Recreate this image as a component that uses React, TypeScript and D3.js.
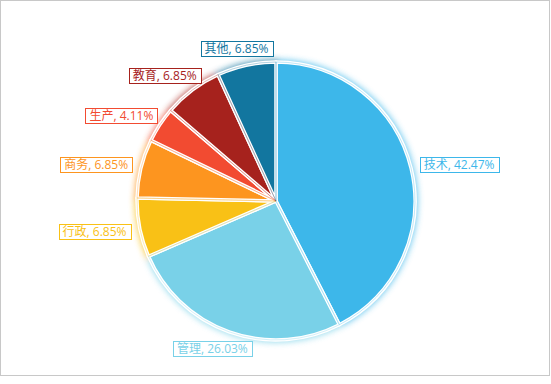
import React, { useEffect, useRef } from "react";
import * as d3 from "d3";

const categories = ["技术", "管理", "行政", "商务", "生产", "教育", "其他"];
const values = [31, 19, 5, 5, 3, 5, 5];
const colors = ["#3db7ea", "#79d1e8", "#f9c116", "#fd951f", "#f24b31", "#a6221d", "#12769f"];

const W = 551;
const H = 384;

export default function App() {
  const ref = useRef<SVGSVGElement | null>(null);

  useEffect(() => {
    const svg = d3.select(ref.current);
    svg.selectAll("*").remove();

    const cx = 276;
    const cy = 201;
    const r = 139;
    const labelR = 149;

    const defs = svg.append("defs");
    const f = defs.append("filter").attr("id", "glow").attr("x", "-20%").attr("y", "-20%").attr("width", "140%").attr("height", "140%");
    f.append("feGaussianBlur").attr("stdDeviation", 3.2);

    svg.append("rect").attr("x", 0.5).attr("y", 0.5).attr("width", 549).attr("height", 375)
      .attr("fill", "#fff").attr("stroke", "#c8c8c8").attr("stroke-width", 1);

    const total = d3.sum(values);
    const data = categories.map((c, i) => ({ name: c, value: values[i], color: colors[i] }));
    const pie = d3.pie<any>().sort(null).value((d: any) => d.value);
    const arcs = pie(data);
    const arc = d3.arc<any>().innerRadius(0).outerRadius(r);

    const g = svg.append("g").attr("transform", `translate(${cx},${cy})`);

    g.append("g").attr("filter", "url(#glow)").attr("opacity", 0.75)
      .selectAll("path").data(arcs).join("path")
      .attr("d", arc as any)
      .attr("fill", (d: any) => d.data.color)
      .attr("stroke", (d: any) => d.data.color)
      .attr("stroke-width", 5);

    g.append("g").selectAll("path").data(arcs).join("path")
      .attr("d", arc as any)
      .attr("fill", (d: any) => d.data.color)
      .attr("stroke", "#fff")
      .attr("stroke-width", 3.5)
      .attr("stroke-linejoin", "round");

    g.append("g").selectAll("path").data(arcs).join("path")
      .attr("d", arc as any)
      .attr("fill", "none")
      .attr("stroke", (d: any) => d.data.color)
      .attr("stroke-width", 0.8)
      .attr("stroke-opacity", 0.4);

    const lg = svg.append("g");
    arcs.forEach((d: any) => {
      const a = (d.startAngle + d.endAngle) / 2;
      const dx = Math.sin(a);
      const dy = -Math.cos(a);
      const label = `${d.data.name}, ${((d.data.value / total) * 100).toFixed(2)}%`;
      const grp = lg.append("g");
      const rect = grp.append("rect");
      const text = grp.append("text")
        .attr("font-family", "'Open Sans', 'Noto Sans CJK SC', sans-serif")
        .attr("font-size", 12)
        .attr("fill", d.data.color)
        .attr("text-anchor", "middle")
        .attr("dominant-baseline", "central")
        .text(label);
      const tw = (text.node() as SVGTextElement).getComputedTextLength();
      const bw = tw + 8;
      const bh = 15;
      const bx = cx + labelR * dx + (dx * bw) / 2;
      const by = cy + labelR * dy + (dy * bh) / 2;
      text.attr("x", bx).attr("y", by);
      rect.attr("x", Math.round(bx - bw / 2) + 0.5).attr("y", Math.round(by - bh / 2) + 0.5)
        .attr("width", Math.round(bw)).attr("height", bh)
        .attr("fill", "#fff").attr("stroke", d.data.color).attr("stroke-width", 1);
    });
  }, []);

  return (
    <div style={{ position: "absolute", left: 0, top: 0, width: W, height: H }}>
      <svg ref={ref} width={W} height={H} style={{ display: "block" }} />
    </div>
  );
}
